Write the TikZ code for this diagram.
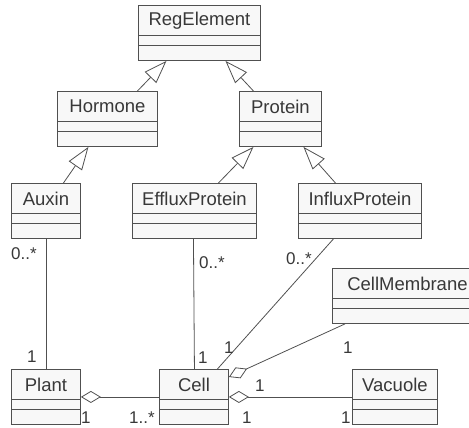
\documentclass[tikz,border=0pt]{standalone}
\usepackage{fontspec}
\setmainfont{Liberation Sans}
\usetikzlibrary{arrows.meta}
\definecolor{boxfill}{HTML}{F8F8F8}
\definecolor{linecol}{HTML}{505050}
\tikzset{
  gentip/.tip={Triangle[open, length=23pt, width=16pt, fill=white]},
  aggtip/.tip={Diamond[open, length=20pt, width=12pt, fill=white]},
  clsbox/.style={draw=linecol, fill=boxfill, line width=0.9pt, inner sep=0pt, minimum height=55pt},
  clstext/.style={inner sep=0pt, font=\fontsize{18.5}{20}\selectfont, text=black!78},
  clsline/.style={draw=linecol, line width=0.9pt},
  conn/.style={draw=linecol, line width=0.8pt},
  gen/.style={conn, -gentip},
  agg/.style={conn, aggtip-},
  mult/.style={inner sep=0pt, anchor=base west, font=\fontsize{17}{18}\selectfont, text=black!78},
}
\newcommand\umlclass[5]{%
  \node[clsbox, minimum width=#4pt, anchor=north west] (#1) at (#2,#3) {};
  \node[clstext] (#1-t) at ([yshift=-15.5pt]#1.north) {#5};
  \draw[clsline] ([yshift=-30pt]#1.north west) -- ([yshift=-30pt]#1.north east);
  \draw[clsline] ([yshift=-40pt]#1.north west) -- ([yshift=-40pt]#1.north east);
}
\begin{document}
\begin{tikzpicture}[x=1pt, y=-1pt]
\useasboundingbox (0,0) rectangle (469,428);
\umlclass{reg}{138}{5}{122}{RegElement}
\umlclass{hor}{57}{91}{100}{Hormone}
\umlclass{pro}{239}{91}{82}{Protein}
\umlclass{aux}{11}{183}{69}{Auxin}
\umlclass{eff}{132}{183}{124}{EffluxProtein}
\umlclass{inf}{298}{183}{123}{InfluxProtein}
\umlclass{mem}{332}{268}{150}{CellMembrane}
\umlclass{pla}{11}{369}{69}{Plant}
\umlclass{cel}{159}{369}{69}{Cell}
\umlclass{vac}{352}{369}{85}{Vacuole}
% generalizations
\draw[gen] ([xshift=30pt]hor.north) -- ([xshift=-33pt]reg.south);
\draw[gen] ([xshift=-27pt]pro.north) -- ([xshift=26pt]reg.south);
\draw[gen] ([xshift=17.5pt]aux.north) -- ([xshift=-19pt]hor.south);
\draw[gen] ([xshift=24pt]eff.north) -- ([xshift=-27pt]pro.south);
\draw[gen] ([xshift=-24.5pt]inf.north) -- ([xshift=23pt]pro.south);
% associations
\draw[conn] (aux.south) -- (pla.north);
\draw[conn] ([xshift=-1pt]eff.south) -- (eff.south |- cel.north);
\draw[conn] ([xshift=-26.5pt]inf.south) -- ([xshift=23.5pt]cel.north);
\draw[agg] ([yshift=-8pt]cel.north east) -- ([xshift=13pt]mem.south west);
\draw[agg] (pla.east) -- (cel.west);
\draw[agg] (cel.east) -- (vac.west);
% multiplicities
\node[mult] (m1) at (11,259) {0..*};
\node[mult] (m2) at (199,268) {0..*};
\node[mult] (m3) at (286,264) {0..*};
\node[mult] (m4) at (27,362) {1};
\node[mult] (m5) at (198,363) {1};
\node[mult] (m6) at (224,353) {1};
\node[mult] (m7) at (343,353) {1};
\node[mult] (m8) at (81,423) {1};
\node[mult] (m9) at (129,423) {1..*};
\node[mult] (m10) at (255,391) {1};
\node[mult] (m11) at (242,423) {1};
\node[mult] (m12) at (341,423) {1};
\end{tikzpicture}
\end{document}
